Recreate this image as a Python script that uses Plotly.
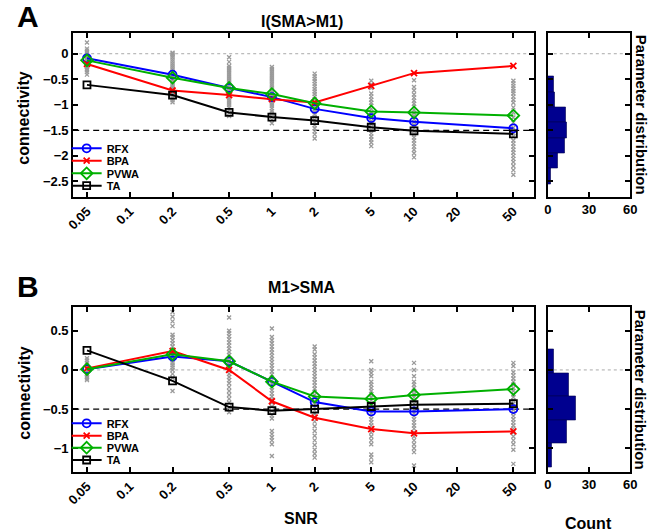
import plotly.graph_objects as go

# ---------------- data ----------------
snr = [0.05, 0.2, 0.5, 1, 2, 5, 10, 50]
snr_ticks = [0.05, 0.1, 0.2, 0.5, 1, 2, 5, 10, 20, 50]
snr_ticktext = ["0.05", "0.1", "0.2", "0.5", "1", "2", "5", "10", "20", "50"]
methods = ["RFX", "BPA", "PVWA", "TA"]

# Panel A: I(SMA>M1)
rfx_a = [-0.09, -0.41, -0.67, -0.85, -1.08, -1.26, -1.33, -1.46]
bpa_a = [-0.20, -0.72, -0.81, -0.89, -0.955, -0.63, -0.38, -0.24]
pvwa_a = [-0.13, -0.47, -0.67, -0.79, -0.97, -1.13, -1.15, -1.21]
ta_a = [-0.61, -0.81, -1.15, -1.24, -1.31, -1.44, -1.51, -1.57]
true_a = -1.5

# Panel B: M1>SMA
rfx_b = [0.01, 0.17, 0.11, -0.15, -0.41, -0.53, -0.53, -0.50]
bpa_b = [0.02, 0.24, 0.00, -0.40, -0.61, -0.755, -0.81, -0.785]
pvwa_b = [0.01, 0.20, 0.11, -0.15, -0.34, -0.37, -0.32, -0.245]
ta_b = [0.25, -0.14, -0.475, -0.52, -0.50, -0.467, -0.445, -0.43]
true_b = -0.5

# individual estimates (grey crosses), one list per SNR level
subj_a = [
    [0.22, 0.10, 0.06, 0.03, 0.01, -0.02, -0.04, -0.06, -0.08, -0.10, -0.12, -0.14,
     -0.16, -0.18, -0.20, -0.22, -0.24, -0.26, -0.29, -0.32, -0.36, -0.41],
    [0.02, 0.00, -0.03, -0.07, -0.11, -0.15, -0.19, -0.23, -0.27, -0.31, -0.35, -0.39,
     -0.43, -0.47, -0.51, -0.55, -0.59, -0.63, -0.67, -0.71, -0.75, -0.79, -0.83,
     -0.87, -0.91, -0.95],
    [-0.07, -0.16, -0.24, -0.28, -0.32, -0.36, -0.40, -0.44, -0.48, -0.52, -0.56, -0.60,
     -0.64, -0.68, -0.72, -0.76, -0.80, -0.84, -0.88, -0.92, -0.96, -1.00, -1.05,
     -1.10, -1.16, -1.22],
    [-0.26, -0.30, -0.34, -0.38, -0.42, -0.46, -0.50, -0.54, -0.58, -0.62, -0.66, -0.70,
     -0.74, -0.78, -0.82, -0.86, -0.90, -0.94, -0.98, -1.02, -1.07, -1.12, -1.17,
     -1.23, -1.29, -1.36],
    [-0.39, -0.44, -0.49, -0.54, -0.59, -0.64, -0.69, -0.74, -0.79, -0.84, -0.89, -0.94,
     -0.99, -1.04, -1.09, -1.14, -1.19, -1.24, -1.29, -1.34, -1.40, -1.46, -1.52,
     -1.58, -1.66],
    [-0.53, -0.60, -0.67, -0.78, -0.84, -0.90, -0.96, -1.02, -1.08, -1.14, -1.20, -1.26,
     -1.32, -1.38, -1.44, -1.50, -1.56, -1.62, -1.68, -1.74, -1.81],
    [-0.52, -0.65, -0.72, -0.80, -0.86, -0.92, -0.98, -1.04, -1.10, -1.16, -1.22, -1.28,
     -1.34, -1.40, -1.46, -1.52, -1.58, -1.64, -1.70, -1.76, -1.82, -1.88, -1.95,
     -2.03],
    [-0.53, -0.58, -0.63, -0.68, -0.73, -0.78, -0.84, -0.90, -0.96, -1.05, -1.15, -1.25,
     -1.35, -1.45, -1.55, -1.62, -1.70, -1.76, -1.82, -1.88, -1.94, -2.00, -2.06,
     -2.12, -2.20, -2.28, -2.37],
]
subj_b = [
    [0.15, 0.12, 0.09, 0.06, 0.03, 0.01, -0.01, -0.03, -0.05, -0.07, -0.09, -0.11, -0.13],
    [0.74, 0.68, 0.62, 0.56, 0.45, 0.42, 0.38, 0.34, 0.30, 0.26, 0.22, 0.18, 0.15, 0.12,
     0.09, 0.06, 0.03, 0.00, -0.05, -0.10, -0.27],
    [0.67, 0.50, 0.47, 0.43, 0.39, 0.35, 0.31, 0.27, 0.23, 0.19, 0.15, 0.11, 0.07, 0.03,
     -0.01, -0.05, -0.09, -0.13, -0.17, -0.22, -0.27, -0.32, -0.37, -0.42, -0.48, -0.54],
    [0.53, 0.42, 0.38, 0.34, 0.30, 0.26, 0.22, 0.18, 0.14, 0.10, 0.06, 0.02, -0.02,
     -0.06, -0.10, -0.14, -0.18, -0.22, -0.26, -0.30, -0.34, -0.38, -0.42, -0.47, -0.52,
     -0.58, -0.62, -0.78, -0.82, -0.86, -0.90, -0.95, -1.10],
    [0.30, 0.26, 0.20, 0.16, 0.12, 0.08, 0.04, 0.00, -0.04, -0.08, -0.12, -0.16, -0.20,
     -0.24, -0.28, -0.32, -0.36, -0.40, -0.44, -0.48, -0.52, -0.56, -0.60, -0.66, -0.72,
     -0.78, -0.84, -0.90, -0.96, -1.02, -1.07, -1.12],
    [0.11, 0.00, -0.04, -0.08, -0.15, -0.19, -0.23, -0.27, -0.31, -0.35, -0.39, -0.43,
     -0.47, -0.51, -0.55, -0.59, -0.63, -0.67, -0.71, -0.75, -0.80, -0.85, -0.90, -0.95,
     -1.08, -1.12, -1.18],
    [0.09, 0.00, -0.08, -0.15, -0.19, -0.23, -0.27, -0.31, -0.35, -0.39, -0.43, -0.47,
     -0.51, -0.55, -0.59, -0.63, -0.67, -0.71, -0.75, -0.80, -0.85, -0.90, -0.95, -1.00,
     -1.05, -1.22],
    [0.09, 0.05, -0.03, -0.07, -0.11, -0.15, -0.19, -0.23, -0.27, -0.31, -0.35, -0.39,
     -0.43, -0.47, -0.51, -0.55, -0.59, -0.63, -0.67, -0.71, -0.75, -0.80, -0.85, -0.90,
     -0.95, -1.02, -1.20],
]

# parameter distributions (horizontal histograms)
hist_a_centers = [-0.6, -0.9, -1.2, -1.5, -1.8, -2.1, -2.4]
hist_a_counts = [4, 5, 13, 14, 12, 7, 2]
hist_b_centers = [0.11, -0.19, -0.49, -0.79, -1.09]
hist_b_counts = [4, 15, 20, 14, 3]
bin_width = 0.3

# ---------------- style ----------------
W, H = 663, 532
FONT = "Liberation Sans"
colors = {"RFX": "#0000ff", "BPA": "#ff0000", "PVWA": "#00b000", "TA": "#000000"}
symbols = {"RFX": "circle-open", "BPA": "x-thin", "PVWA": "diamond-open", "TA": "square-open"}
msize = {"RFX": 8, "BPA": 6, "PVWA": 9, "TA": 7}


def px(x):
    return x / W


def py(y):
    return 1 - y / H


main_x = [px(66.7), px(538.3)]
hist_x = [px(552.3), px(636.7)]
top_y = [py(196.7), py(33.3)]
bot_y = [py(471.7), py(307.3)]

fig = go.Figure()

panels = [
    dict(xa="x", ya="y", hx="x2", hy="y2", subj=subj_a,
         series=[rfx_a, bpa_a, pvwa_a, ta_a],
         hc=hist_a_centers, hn=hist_a_counts, leg_y=[148.3, 160.7, 173.3, 185.7], li=1),
    dict(xa="x3", ya="y3", hx="x4", hy="y4", subj=subj_b,
         series=[rfx_b, bpa_b, pvwa_b, ta_b],
         hc=hist_b_centers, hn=hist_b_counts, leg_y=[423.3, 435.7, 447.7, 460.0], li=5),
]

legend_layouts = {}
for p in panels:
    # grey crosses
    for s, vals in zip(snr, p["subj"]):
        fig.add_trace(go.Scatter(
            x=[s] * len(vals), y=vals, mode="markers", xaxis=p["xa"], yaxis=p["ya"],
            marker=dict(symbol="x-thin", size=4, color="#9a9a9a",
                        line=dict(width=1.3, color="#9a9a9a")),
            showlegend=False, hoverinfo="skip"))
    # method lines
    for k, (m, vals) in enumerate(zip(methods, p["series"])):
        lname = "legend" if p["li"] + k == 1 else f"legend{p['li'] + k}"
        fig.add_trace(go.Scatter(
            x=snr, y=vals, mode="lines+markers", name=m, xaxis=p["xa"], yaxis=p["ya"],
            line=dict(color=colors[m], width=2),
            marker=dict(symbol=symbols[m], size=msize[m], color=colors[m],
                        line=dict(width=1.8, color=colors[m])),
            legend=lname, showlegend=True))
        legend_layouts[lname] = dict(
            x=px(60), y=py(p["leg_y"][k]), xanchor="left", yanchor="middle",
            bgcolor="rgba(0,0,0,0)", borderwidth=0, itemwidth=30,
            font=dict(family=FONT, size=11, color="black", weight="bold"),
            tracegroupgap=0)
    # histogram
    fig.add_trace(go.Bar(
        y=p["hc"], x=p["hn"], orientation="h", width=bin_width,
        xaxis=p["hx"], yaxis=p["hy"],
        marker=dict(color="#00008f", line=dict(color="#000050", width=0.6)),
        showlegend=False, hoverinfo="skip"))

tickfont = dict(family=FONT, size=13, color="black", weight="bold")
ax_common = dict(showline=True, linecolor="black", linewidth=2, mirror="ticks",
                 ticks="inside", ticklen=5, tickwidth=1.5, tickcolor="black",
                 showgrid=False, zeroline=False, tickfont=tickfont)

xmain = dict(ax_common, type="log", range=[-1.398, 1.845], tickvals=snr_ticks,
             ticktext=snr_ticktext, tickangle=-45)
xhist = dict(ax_common, range=[0, 60], tickvals=[0, 30, 60], tickangle=0)

fig.update_layout(
    width=W, height=H, autosize=False,
    margin=dict(l=0, r=0, t=0, b=0),
    paper_bgcolor="white", plot_bgcolor="white",
    bargap=0,
    xaxis=dict(xmain, domain=main_x, anchor="y"),
    yaxis=dict(ax_common, domain=top_y, anchor="x", range=[-2.8, 0.4],
               tick0=0, dtick=0.5),
    xaxis2=dict(xhist, domain=hist_x, anchor="y2"),
    yaxis2=dict(ax_common, domain=top_y, anchor="x2", range=[-2.8, 0.4],
                tick0=0, dtick=0.5, showticklabels=False),
    xaxis3=dict(xmain, domain=main_x, anchor="y3"),
    yaxis3=dict(ax_common, domain=bot_y, anchor="x3", range=[-1.3, 0.8],
                tick0=0, dtick=0.5),
    xaxis4=dict(xhist, domain=hist_x, anchor="y4"),
    yaxis4=dict(ax_common, domain=bot_y, anchor="x4", range=[-1.3, 0.8],
                tick0=0, dtick=0.5, showticklabels=False),
    **legend_layouts,
)

# reference lines
for xa, ya, tv in [("x", "y", true_a), ("x3", "y3", true_b)]:
    fig.add_shape(type="line", xref=f"{xa} domain", yref=ya, x0=0, x1=1, y0=tv, y1=tv,
                  line=dict(color="black", width=1.3, dash="6px,4px"), layer="below")
for xa, ya in [("x", "y"), ("x2", "y2"), ("x3", "y3"), ("x4", "y4")]:
    fig.add_shape(type="line", xref=f"{xa} domain", yref=ya, x0=0, x1=1, y0=0, y1=0,
                  line=dict(color="#aaaaaa", width=1, dash="dot"), layer="below")


def label(text, x, y, size, angle=0):
    fig.add_annotation(text=text, x=px(x), y=py(y), xref="paper", yref="paper",
                       showarrow=False, textangle=angle, xanchor="center", yanchor="middle",
                       font=dict(family=FONT, size=size, color="black", weight="bold"))


label("A", 20, 16, 30)
label("B", 20, 286, 30)
label("I(SMA&gt;M1)", 301, 22, 16)
label("M1&gt;SMA", 301, 287, 16)
label("connectivity", 16, 118, 16, -90)
label("connectivity", 16, 393, 16, -90)
label("Parameter distribution", 648, 115, 15, 90)
label("Parameter distribution", 648, 390, 15, 90)
label("SNR", 300, 518, 16)
label("Count", 594, 523, 16)

# remove the browser's default page margin so the 663x532 figure fills the window
fig.write_html("out.html",
               config={"displayModeBar": False},
               post_script="document.body.style.margin='0';document.body.style.overflow='hidden';")
